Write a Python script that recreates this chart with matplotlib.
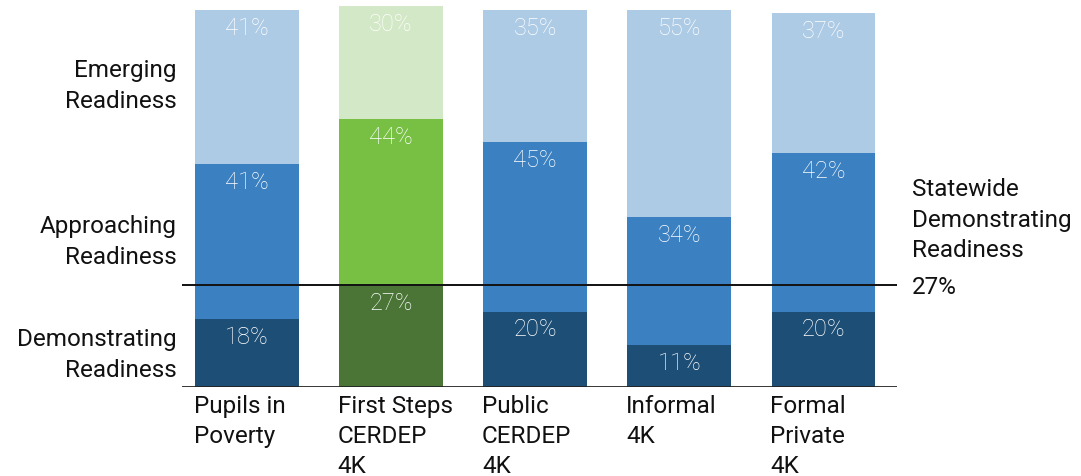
import matplotlib.pyplot as plt

# === DATA =====================================================================
categories = ["Pupils in\nPoverty", "First Steps\nCERDEP\n4K", "Public\nCERDEP\n4K",
              "Informal\n4K", "Formal\nPrivate\n4K"]
demonstrating = [18, 27, 20, 11, 20]
approaching = [41, 44, 45, 34, 42]
emerging = [41, 30, 35, 55, 37]
statewide = 27
level_labels = ["Emerging\nReadiness", "Approaching\nReadiness", "Demonstrating\nReadiness"]
level_y = [86, 242, 355]  # label centres in pixels (from top)

# === COLOURS ==================================================================
blue = ["#1d4e76", "#3b80c1", "#aecbe6"]
green = ["#4a7536", "#77c044", "#d3e8c6"]

# === PLOT RENDERING ===========================================================
W, H = 1081, 476
fig = plt.figure(figsize=(W / 100, H / 100), dpi=100)
ax = fig.add_axes([182 / W, (H - 387) / H, (897 - 182) / W, (387 - 4) / H])

plt.rcParams['font.family'] = ['Roboto', 'DejaVu Sans']
fs = 17.5
ls = 1.4

for i in range(len(categories)):
    cols = green if i == 1 else blue
    bottom = 0
    for val, col in zip([demonstrating[i], approaching[i], emerging[i]], cols):
        ax.bar(i, val, bottom=bottom, width=0.72, color=col, zorder=1)
        ax.annotate(f"{val}%", (i, bottom + val), xytext=(0, -5), textcoords="offset points",
                    ha="center", va="top", color="white", fontsize=17, fontweight="light")
        bottom += val

ax.set_xlim(-0.451, 4.51)
ax.set_ylim(0, 101.5)
ax.axhline(statewide, color="#111111", lw=1.4, zorder=3)
ax.axhline(0, color="#222222", lw=2, zorder=3)
for s in ax.spines.values():
    s.set_visible(False)
ax.set_xticks([])
ax.set_yticks([])

# category labels, left aligned to bar edge
for i, c in enumerate(categories):
    ax.text(i - 0.37, -2, c, ha="left", va="top", fontsize=fs, color="#111111",
            linespacing=ls)

# readiness level labels on the left
for lab, py in zip(level_labels, level_y):
    fig.text(177 / W, (H - py) / H, lab, ha="right", va="center", fontsize=fs,
             color="#111111", linespacing=ls)

fig.text(912 / W, (H - 220) / H, "Statewide\nDemonstrating\nReadiness", ha="left",
         va="center", fontsize=fs, color="#111111", linespacing=ls)
fig.text(912 / W, (H - 287) / H, f"{statewide}%", ha="left", va="center", fontsize=fs,
         color="#111111")

plt.savefig("out.png", dpi=100)
